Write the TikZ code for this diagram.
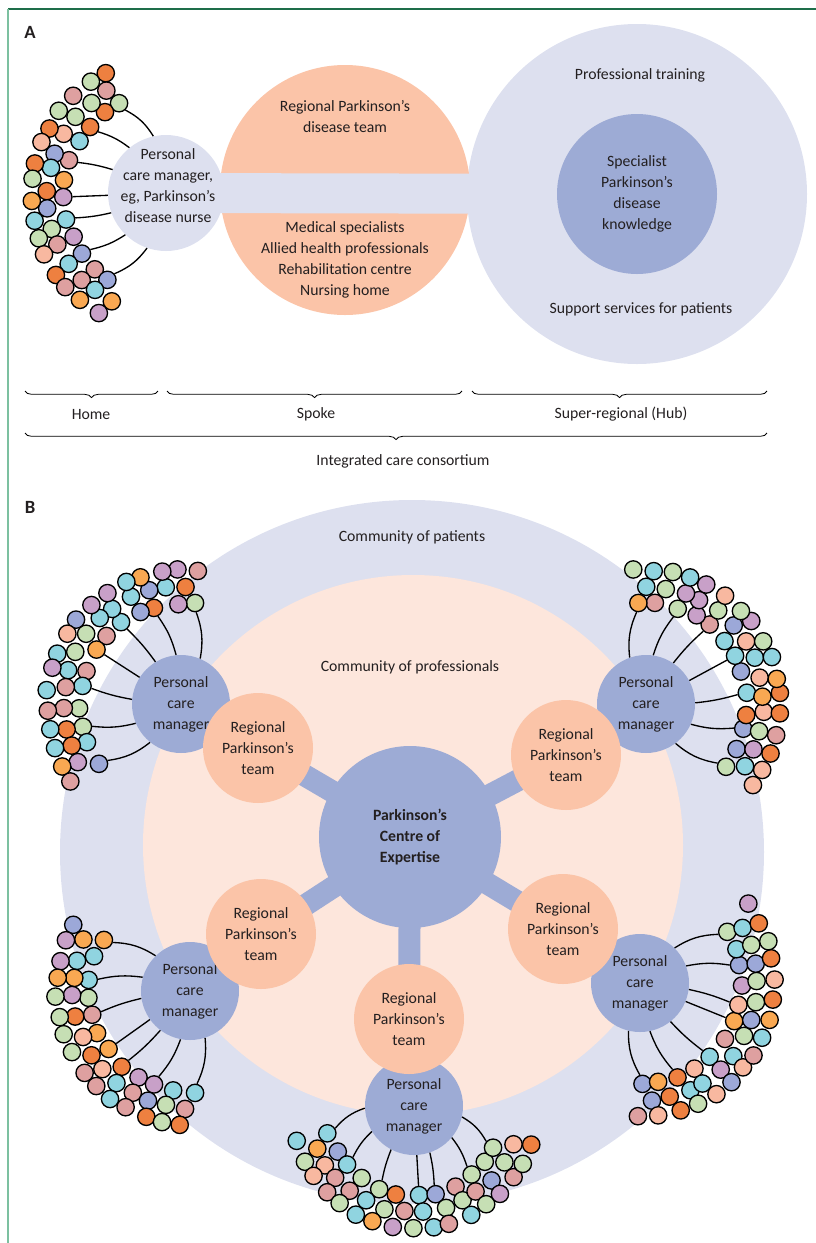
\documentclass[tikz,border=0pt]{standalone}
\usepackage{fontspec}
\setmainfont{Carlito}
\usetikzlibrary{calc,decorations.pathreplacing}

\definecolor{lav}{HTML}{DDE0EF}
\definecolor{peri}{HTML}{9DABD5}
\definecolor{salm}{HTML}{FBC4A8}
\definecolor{peach}{HTML}{FDE6DC}
\definecolor{txt}{HTML}{231F20}
\definecolor{rulegreen}{HTML}{1E6E4A}
\definecolor{edgegreen}{HTML}{7CC0A0}
\definecolor{dot0}{HTML}{DEA0A0}
\definecolor{dot1}{HTML}{90D4E0}
\definecolor{dot2}{HTML}{C8A0C8}
\definecolor{dot3}{HTML}{9CA8D8}
\definecolor{dot4}{HTML}{F9A852}
\definecolor{dot5}{HTML}{F8B8A0}
\definecolor{dot6}{HTML}{EE8040}
\definecolor{dot7}{HTML}{C6DFB4}
\definecolor{dot8}{HTML}{90D4E0}
\definecolor{dot9}{HTML}{C6DFB4}

% #1 name, #2 centre, #3/#4 angles, #5 inner radius, #6 manager, #7 last row
\newcommand\dotarc[7]{%
  \pgfmathsetmacro\stA{19.5/#5*180/pi}
  \pgfmathtruncatemacro\numA{(#4-#3)/\stA}
  \foreach \r in {0,...,#7}{
    \pgfmathsetmacro\rad{#5+\r*16.5}
    \pgfmathsetmacro\stp{19.5/\rad*180/pi}
    \pgfmathtruncatemacro\num{(#4-#3)/\stp-0.5*mod(\r,2)}
    \foreach \i in {0,...,\num}{
      \pgfmathsetmacro\nang{-(#3+(\i+0.5*mod(\r,2))*\stp+0.15*\stp*rand)}
      \pgfmathsetmacro\jr{\rad+1.2*rand}
      \pgfmathrandominteger\k{0}{9}
      \node[pdot,fill=dot\k] (#1-\r-\i) at ($#2+(\nang:\jr)$) {};
    }
  }
  \foreach \j in {0,...,6}{
    \pgfmathtruncatemacro\t{round(\j*\numA/6)}
    \pgfmathsetmacro\bd{(\j-3)*5}
    \draw[link] (#6) to[bend left=\bd] (#1-0-\t);
  }
}

\begin{document}
\begin{tikzpicture}[x=0.75pt,y=-0.75pt,
  every node/.style={text=txt,font=\fontsize{11.8}{15.75}\selectfont,align=center},
  disc/.style={circle,inner sep=0pt,minimum size=1.5pt*#1},
  pdot/.style={circle,draw=black,line width=1pt,minimum size=13pt,inner sep=0pt},
  link/.style={draw=black,line width=1pt},
  band/.style={draw=lav,line width=30pt},
  spokebar/.style={draw=peri,line width=16.5pt},
  brc/.style={decorate,decoration={brace,mirror,amplitude=5pt},line width=0.6pt},
  panel/.style={font=\fontsize{14}{16}\selectfont\bfseries}]
\pgfmathsetseed{11}
\useasboundingbox (0,0) rectangle (816,1243);
\draw[rulegreen,line width=1.1pt] (8,9) -- (816,9);
\draw[edgegreen,line width=1.5pt] (8,9) -- (8,1243);

\node[panel] (lblA) at (30,32) {A};
\node[disc=170,fill=lav] (hub) at (637,194) {};
\node[disc=125,fill=salm] (spoke) at (345,190) {};
\node[disc=58,fill=lav] (home) at (166,193) {};
\draw[band] (home.center) -- (hub.center);
\node[disc=80,fill=peri] (know) at (637,194) {Specialist\\Parkinson’s\\disease\\knowledge};
\node (hometxt) at (168,186) {Personal\\care manager,\\eg, Parkinson’s\\disease nurse};
\node (teamtxt) at (345,117) {Regional Parkinson’s\\disease team};
\node (spectxt) at (345,260) {Medical specialists\\Allied health professionals\\Rehabilitation centre\\Nursing home};
\node (traintxt) at (640,75) {Professional training};
\node (supptxt) at (641,309) {Support services for patients};
\dotarc{ha}{(168,195)}{117}{243}{104}{home}{2}

\draw[brc] (25,391) -- (158,391);
\draw[brc] (167,391) -- (462,391);
\draw[brc] (472,391) -- (767,391);
\draw[brc] (25,433) -- (767,433);
\node (homelbl) at (91,414) {Home};
\node (spokelbl) at (316,414) {Spoke};
\node (hublbl) at (621,414) {Super-regional (Hub)};
\node (icc) at (403,461) {Integrated care consortium};

\node[panel] (lblB) at (30,507) {B};
\node[disc=352,fill=lav] (patients) at (412,852) {};
\node[disc=270,fill=peach] (profs) at (413,845) {};
\node (pattxt) at (412,537) {Community of patients};
\node (proftxt) at (410,667) {Community of professionals};

\node[disc=49,fill=peri] (mul) at (181,704) {Personal\\care\\manager};
\node[disc=49,fill=peri] (mur) at (646,704) {Personal\\care\\manager};
\node[disc=49,fill=peri] (mll) at (190,991) {Personal\\care\\manager};
\node[disc=49,fill=peri] (mlr) at (640,983) {Personal\\care\\manager};
\node[disc=49,fill=peri] (mb) at (414,1106) {Personal\\care\\manager};

\coordinate (c0) at (410,837);
\coordinate (t1) at (258,748);
\coordinate (t2) at (566,755);
\coordinate (t3) at (261,934);
\coordinate (t4) at (563,929);
\coordinate (t5) at (409,1019);
\foreach \t in {t1,t2,t3,t4,t5}
  \draw[spokebar] (c0) -- (\t);
\node[disc=91,fill=peri,font=\fontsize{11.8}{15.75}\selectfont\bfseries] (expert) at (c0) {Parkinson’s\\Centre of\\Expertise};
\foreach \t/\n in {t1/rt1,t2/rt2,t3/rt3,t4/rt4,t5/rt5}
  \node[disc=55,fill=salm] (\n) at (\t) {Regional\\Parkinson’s\\team};

\dotarc{ul}{(181,704)}{82}{219}{101}{mul}{2}
\dotarc{ur}{(646,704)}{-38}{98}{101}{mur}{2}
\dotarc{ll}{(190,991)}{150}{273}{101}{mll}{2}
\dotarc{lr}{(640,983)}{-90}{37}{101}{mlr}{2}
\dotarc{bm}{(414,1106)}{197}{343}{90}{mb}{2}
\end{tikzpicture}
\end{document}
